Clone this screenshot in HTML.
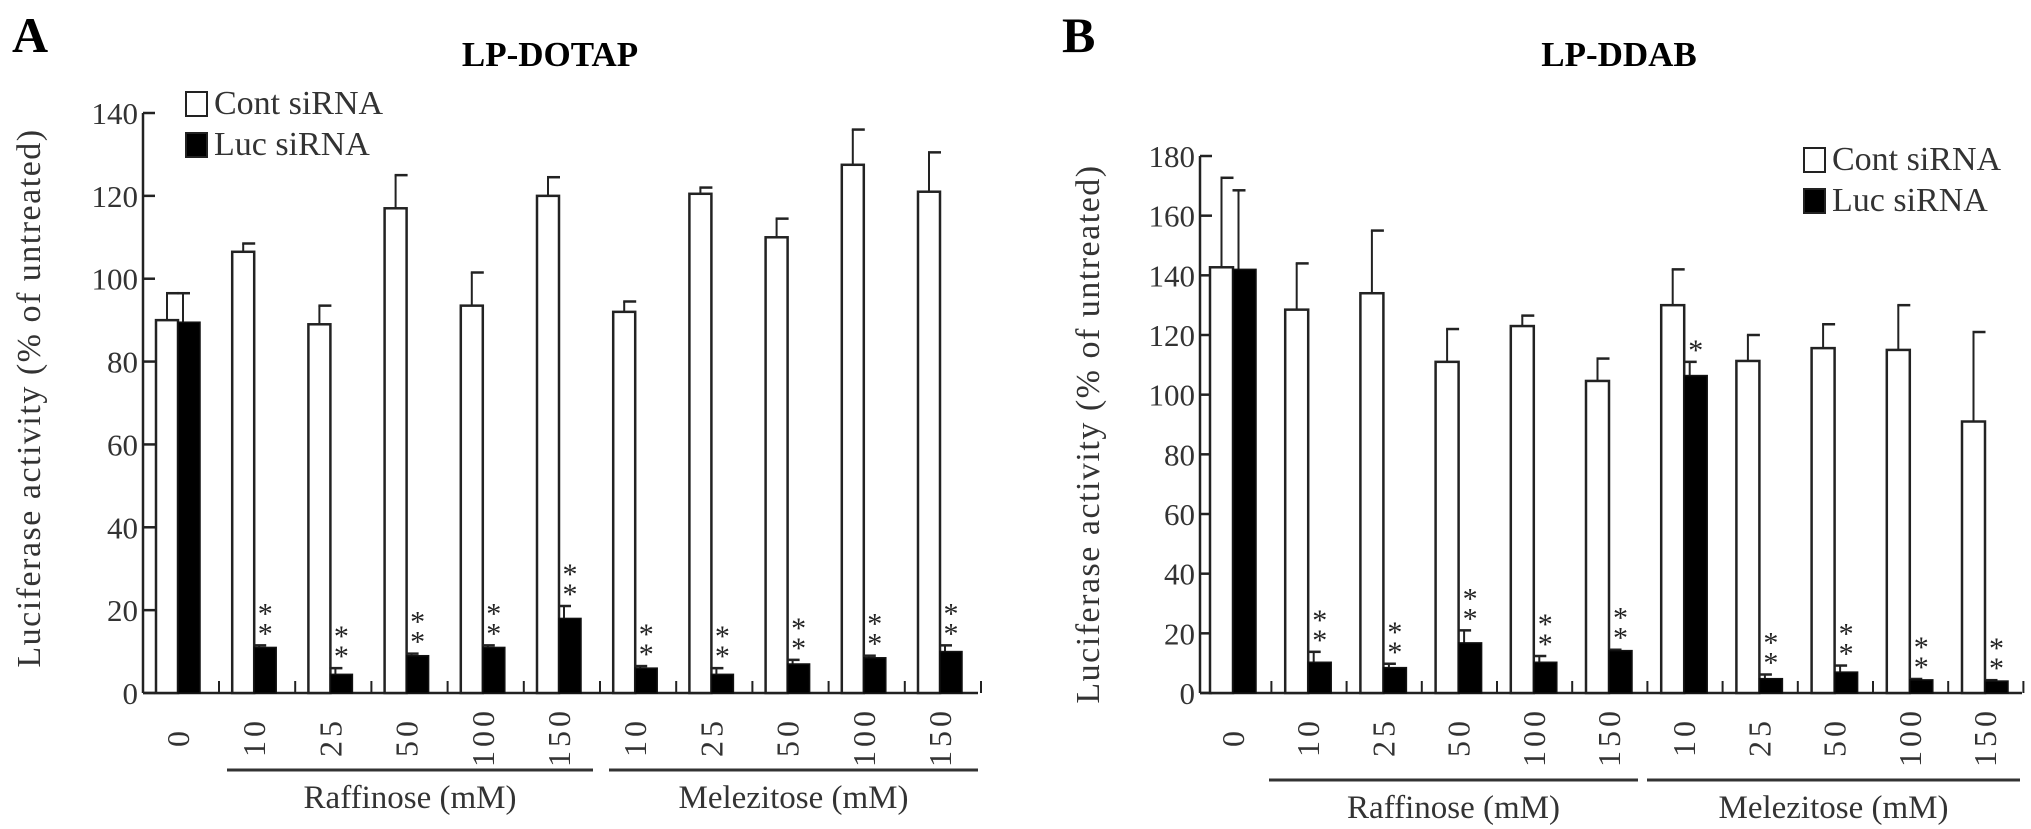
<!DOCTYPE html>
<html><head><meta charset="utf-8"><style>
html,body{margin:0;padding:0;background:#fff;}
svg{display:block;font-family:"Liberation Serif",serif;}
</style></head><body>
<svg id="chart" width="2031" height="829" viewBox="0 0 2031 829" xmlns="http://www.w3.org/2000/svg"></svg>
<script>
const categories = ["0","10","25","50","100","150","10","25","50","100","150"];
const contA = [90,106.5,89,117,93.5,120,92,120.5,110,127.5,121];
const contAErr = [6.5,2,4.5,8,8,4.5,2.5,1.5,4.5,8.5,9.5];
const lucA = [89.5,11,4.5,9,11,18,6,4.5,7,8.5,10];
const lucAErr = [7,0.5,1.5,0.5,0.5,3,0.5,1.5,1,0.5,1.5];
const sigA = ["","**","**","**","**","**","**","**","**","**","**"];
const ticksA = [0,20,40,60,80,100,120,140];
const contB = [142.7,128.5,134,111,123,104.6,130,111.3,115.6,115,91];
const contBErr = [30,15.5,21,11,3.5,7.5,12,8.7,8,15,30];
const lucB = [142,10.3,8.5,16.8,10.3,14.2,106.4,4.8,7,4.4,4];
const lucBErr = [26.5,3.5,1.3,4.2,2.1,0.3,4.6,1.4,2.2,0.3,0.3];
const sigB = ["","**","**","**","**","**","*","**","**","**","**"];
const ticksB = [0,20,40,60,80,100,120,140,160,180];

const NS="http://www.w3.org/2000/svg";
const svg=document.getElementById('chart');
function mk(tag,attrs,parent){const e=document.createElementNS(NS,tag);for(const k in attrs)e.setAttribute(k,attrs[k]);(parent||svg).appendChild(e);return e;}
function txt(s,attrs,parent){const e=mk('text',attrs,parent);e.textContent=s;return e;}

function panel(cfg){
  const g=mk('g',{});
  
  
  const y=v=>cfg.y0-(v/cfg.ymax)*(cfg.y0-cfg.ytop);
  const xl=i=>cfg.left0+cfg.step*i;
  const L=txt(cfg.letter,{x:cfg.letterX,y:52,'font-size':50,'font-weight':'bold'},g);
  
  
  const T=txt(cfg.title,{x:cfg.titleX,y:66,'font-size':35,'font-weight':'bold','text-anchor':'middle'},g);
  
  
  const ya=mk('line',{x1:cfg.axisX,y1:cfg.ytop,x2:cfg.axisX,y2:cfg.y0,stroke:'#222','stroke-width':2.5},g);
  
  
  const xa=mk('line',{x1:cfg.axisX,y1:cfg.y0,x2:cfg.axisEnd,y2:cfg.y0,stroke:'#222','stroke-width':2.5},g);
  
  
  cfg.ticks.forEach(t=>{
    const tk=mk('line',{x1:cfg.axisX,y1:y(t),x2:cfg.axisX+12,y2:y(t),stroke:'#222','stroke-width':2.5},g);
    
    
    const tl=txt(String(t),{x:cfg.axisX-5,y:y(t)+11,'font-size':31,'text-anchor':'end',fill:'#333'},g);
    
    
  });
  const yt=txt('Luciferase activity (% of untreated)',{x:0,y:0,'font-size':34,'text-anchor':'middle',fill:'#333','letter-spacing':1.5,transform:`translate(${cfg.ytitleX},${cfg.ytitleY}) rotate(-90)`},g);
  
  
  const bw=cfg.bw;
  categories.forEach((c,i)=>{
    const x=xl(i);
    const mt=mk('line',{x1:x+cfg.step-bw*0.6,y1:cfg.y0,x2:x+cfg.step-bw*0.6,y2:cfg.y0-12,stroke:'#222','stroke-width':2},g);
    
    
    const cv=cfg.cont[i],ce=cfg.contErr[i];
    const e1=mk('line',{x1:x+bw/2,y1:y(cv),x2:x+bw/2,y2:y(cv+ce),stroke:'#222','stroke-width':2},g);
    
    
    const e1c=mk('line',{x1:x+bw/2-1,y1:y(cv+ce),x2:x+bw/2+12,y2:y(cv+ce),stroke:'#222','stroke-width':2.5},g);
    
    
    const b1=mk('rect',{x:x,y:y(cv),width:bw,height:cfg.y0-y(cv),fill:'#fff',stroke:'#222','stroke-width':2.5},g);
    
    
    const lv=cfg.luc[i],le=cfg.lucErr[i];
    const lx=x+bw;
    const e2=mk('line',{x1:lx+bw/2-6,y1:y(lv),x2:lx+bw/2-6,y2:y(lv+le),stroke:'#222','stroke-width':2},g);
    
    
    const e2c=mk('line',{x1:lx+bw/2-12,y1:y(lv+le),x2:lx+bw/2+1,y2:y(lv+le),stroke:'#222','stroke-width':2.5},g);
    
    
    const b2=mk('rect',{x:lx,y:y(lv),width:bw,height:cfg.y0-y(lv),fill:'#000',stroke:'#111','stroke-width':1.5},g);
    
    
    const s=cfg.sig[i];
    for(let k=0;k<s.length;k++){
      const st=txt('*',{x:lx+bw/2,y:y(lv+le)-2-k*20,'font-size':30,'text-anchor':'middle',fill:'#222'},g);
      
      
    }
    const cx=x+bw;
    const cl=txt(c,{x:0,y:0,'font-size':32,'text-anchor':'middle','letter-spacing':4,fill:'#333',transform:`translate(${cx+11},${cfg.labelY}) rotate(-90)`},g);
    
    
  });
  cfg.groups.forEach(gr=>{
    const ln=mk('line',{x1:gr.x1,y1:gr.ly,x2:gr.x2,y2:gr.ly,stroke:'#333','stroke-width':3},g);
    
    
    const gl=txt(gr.label,{x:(gr.x1+gr.x2)/2,y:gr.ly+38,'font-size':33,'text-anchor':'middle',fill:'#333'},g);
    
    
  });
  const lg=mk('g',{},g);
  
  
  [['Cont siRNA','#fff',cfg.legY],['Luc siRNA','#000',cfg.legY+41]].forEach(([s,f,ly])=>{
    const r=mk('rect',{x:cfg.legX,y:ly,width:21,height:24,fill:f,stroke:'#222','stroke-width':2},lg);
    
    
    const t=txt(s,{x:cfg.legX+28,y:ly+22,'font-size':34,fill:'#333'},lg);
    
    
  });
}

panel({name:'panel-a-lp-dotap',letter:'A',letterX:12,title:'LP-DOTAP',titleX:550,
  axisX:143,axisEnd:978,y0:693,ytop:113,ymax:140,ticks:ticksA,
  left0:156,step:76.2,bw:22,cont:contA,contErr:contAErr,luc:lucA,lucErr:lucAErr,sig:sigA,
  ytitleX:40,ytitleY:398,labelY:737,
  groups:[{x1:227,x2:593,ly:770,label:'Raffinose (mM)'},{x1:609,x2:978,ly:770,label:'Melezitose (mM)'}],
  legX:186,legY:92});
panel({name:'panel-b-lp-ddab',letter:'B',letterX:1062,title:'LP-DDAB',titleX:1619,
  axisX:1200,axisEnd:2022,y0:693,ytop:156,ymax:180,ticks:ticksB,
  left0:1210,step:75.2,bw:23,cont:contB,contErr:contBErr,luc:lucB,lucErr:lucBErr,sig:sigB,
  ytitleX:1099,ytitleY:434,labelY:737,
  groups:[{x1:1269,x2:1638,ly:780,label:'Raffinose (mM)'},{x1:1647,x2:2020,ly:780,label:'Melezitose (mM)'}],
  legX:1804,legY:148});
</script>
</body></html>
